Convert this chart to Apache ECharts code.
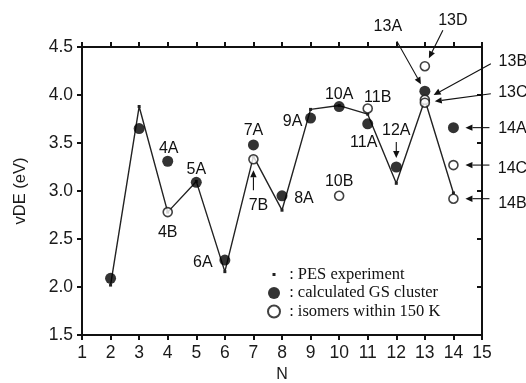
<!DOCTYPE html>
<html><head><meta charset="utf-8">
<script src="https://cdn.jsdelivr.net/npm/echarts@6/dist/echarts.min.js"></script>
<style>html,body{margin:0;padding:0;background:#fff}#c{width:526px;height:383px}</style>
</head><body><div id="c"></div>
<script>
// ---- data ----
const pesN   = [2, 3, 4, 5, 6, 7, 8, 9, 10, 11, 12, 13, 14];
const pesVDE = [2.02, 3.88, 2.78, 3.10, 2.16, 3.36, 2.80, 3.85, 3.89, 3.80, 3.08, 3.95, 2.98];

const gsN     = [2, 3, 4, 5, 6, 7, 8, 9, 10, 11, 12, 13, 14];
const gsVDE   = [2.09, 3.65, 3.31, 3.09, 2.28, 3.48, 2.95, 3.76, 3.88, 3.70, 3.25, 4.04, 3.66];
const gsNames = ['', '', '4A', '5A', '6A', '7A', '8A', '9A', '10A', '11A', '12A', '13A', '14A'];

const isoN     = [4, 7, 10, 11, 13, 13, 13, 14, 14];
const isoVDE   = [2.78, 3.33, 2.95, 3.86, 3.95, 3.92, 4.30, 3.27, 2.92];
const isoNames = ['4B', '7B', '10B', '11B', '13B', '13C', '13D', '14C', '14B'];

const xMin = 1, xMax = 15, xStep = 1;
const yMin = 1.5, yMax = 4.5, yStep = 0.5;
const seriesNames = ['PES experiment', 'calculated GS cluster', 'isomers within 150 K'];

// ---- layout of annotations (pixel offsets from the marked point) ----
const layout = {
  '4A':  {label: [1, -13]},
  '5A':  {label: [0, -13]},
  '6A':  {label: [-22, 2]},
  '7A':  {label: [0, -14]},
  '8A':  {label: [22, 3]},
  '9A':  {label: [-18, 4]},
  '10A': {label: [0, -12]},
  '11A': {label: [-4, 19]},
  '12A': {label: [0, -36], arrow: [0, -25], gap: 9},
  '13A': {label: [-37, -65], arrow: [-28, -50], gap: 8},
  '4B':  {label: [0, 20]},
  '7B':  {label: [5, 46], arrow: [0, 31], gap: 11},
  '10B': {label: [0, -14]},
  '11B': {label: [10, -11]},
  '13B': {label: [88, -38], arrow: [66, -36], gap: 10},
  '13C': {label: [88, -10], arrow: [66, -9], gap: 10},
  '13D': {label: [28, -46], arrow: [18, -36], gap: 9},
  '14A': {label: [59, 1], arrow: [36, 0], gap: 12},
  '14C': {label: [59, 4], arrow: [36, 0], gap: 12},
  '14B': {label: [59, 5], arrow: [36, 0], gap: 12}
};

const sq = 'path://M0,0h0.01v0.01h-0.01zM4.5,4.5h3v3h-3zM12,12h-0.01v-0.01h0.01z';
const chart = echarts.init(document.getElementById('c'), null, {renderer: 'canvas'});
const sans = 'Liberation Sans, Arial, sans-serif';
const axisText = {color: '#1a1a1a', fontSize: 17.5, fontFamily: sans};
const tick = {show: true, length: 5, lineStyle: {color: '#111', width: 2}};
const axLine = {lineStyle: {color: '#111', width: 2}};

chart.setOption({
  animation: false,
  backgroundColor: '#fff',
  grid: {left: 82, right: 44, top: 47, bottom: 48, containLabel: false, outerBoundsMode: 'none'},
  xAxis: [
    {type: 'value', min: xMin, max: xMax, interval: xStep, position: 'bottom',
     name: 'N', nameLocation: 'middle', nameGap: 29, nameTextStyle: {color: '#1a1a1a', fontSize: 16, fontFamily: sans},
     axisLine: axLine, axisTick: tick,
     axisLabel: Object.assign({margin: 9}, axisText), splitLine: {show: false}},
    {type: 'value', min: xMin, max: xMax, interval: xStep, position: 'top',
     axisLine: axLine, axisTick: tick, axisLabel: {show: false}, splitLine: {show: false}}
  ],
  yAxis: [
    {type: 'value', min: yMin, max: yMax, interval: yStep, position: 'left',
     name: 'vDE (eV)', nameLocation: 'middle', nameGap: 53, nameRotate: 90,
     nameTextStyle: {color: '#1a1a1a', fontSize: 16.5, fontFamily: sans},
     axisLine: axLine, axisTick: tick,
     axisLabel: Object.assign({margin: 9, formatter: v => v.toFixed(1)}, axisText), splitLine: {show: false}},
    {type: 'value', min: yMin, max: yMax, interval: yStep, position: 'right',
     axisLine: axLine, axisTick: Object.assign({}, tick, {inside: true}),
     axisLabel: {show: false}, splitLine: {show: false}}
  ],
  legend: {
    orient: 'vertical', left: 262, top: 261, itemWidth: 12, itemHeight: 12, itemGap: 1.5,
    formatter: n => ' : ' + n,
    textStyle: {fontFamily: 'Liberation Serif, Times New Roman, serif', fontSize: 16.5, lineHeight: 17, color: '#111'},
    data: [{name: seriesNames[0], icon: sq}, {name: seriesNames[1], icon: 'circle'}, {name: seriesNames[2], icon: 'circle'}]
  },
  series: [
    {name: seriesNames[0], type: 'line', data: pesN.map((n, i) => [n, pesVDE[i]]),
     symbol: 'rect', symbolSize: 3, showSymbol: true,
     lineStyle: {color: '#222', width: 1.4}, itemStyle: {color: '#222'}, z: 2},
    {name: seriesNames[1], type: 'scatter', data: gsN.map((n, i) => [n, gsVDE[i]]),
     symbol: 'circle', symbolSize: 11, itemStyle: {color: '#000'}, z: 3},
    {name: seriesNames[2], type: 'scatter', data: isoN.map((n, i) => [n, isoVDE[i]]),
     symbol: 'circle', symbolSize: 9, itemStyle: {color: '#fff', borderColor: '#111', borderWidth: 1.6}, z: 4}
  ]
});

// ---- annotations placed from the chart's own scales ----
function annotate(names, ns, vs) {
  const els = [];
  names.forEach((name, i) => {
    const L = layout[name];
    if (!name || !L) return;
    const p = chart.convertToPixel({gridIndex: 0}, [ns[i], vs[i]]);
    els.push({type: 'text', z: 10, style: {
      text: name, x: p[0] + L.label[0], y: p[1] + L.label[1], align: 'center', verticalAlign: 'middle',
      fill: '#111', font: '16px Liberation Sans, Arial, sans-serif'}});
    if (L.arrow) {
      const sx = p[0] + L.arrow[0], sy = p[1] + L.arrow[1];
      const dx = sx - p[0], dy = sy - p[1], d = Math.hypot(dx, dy);
      const ux = dx / d, uy = dy / d;
      const tx = p[0] + ux * L.gap, ty = p[1] + uy * L.gap;
      const hl = 7, hw = 3.2;
      const bx = tx + ux * hl, by = ty + uy * hl;
      els.push({type: 'line', z: 10, shape: {x1: sx, y1: sy, x2: bx, y2: by}, style: {stroke: '#111', lineWidth: 1.1}});
      els.push({type: 'polygon', z: 10, shape: {points: [[tx, ty], [bx - uy * hw, by + ux * hw], [bx + uy * hw, by - ux * hw]]},
                style: {fill: '#111'}});
    }
  });
  return els;
}
chart.setOption({graphic: {elements: annotate(gsNames, gsN, gsVDE).concat(annotate(isoNames, isoN, isoVDE))}});
</script>
</body></html>
